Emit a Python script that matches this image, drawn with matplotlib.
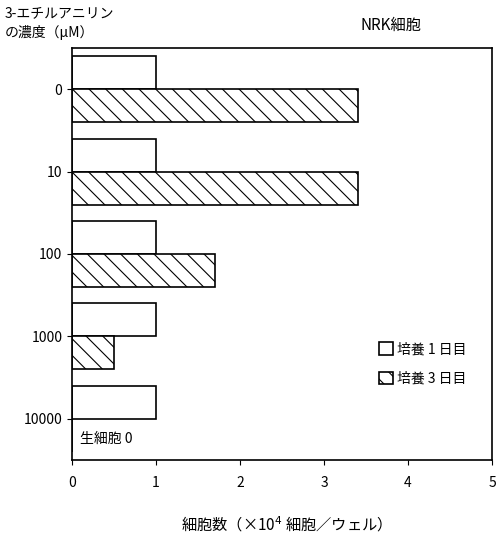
import matplotlib.pyplot as plt
import numpy as np

plt.rcParams['font.family'] = ['Noto Sans CJK JP', 'DejaVu Sans']
plt.rcParams['hatch.linewidth'] = 0.8

concs = ['0', '10', '100', '1000', '10000']
day1 = [1.0, 1.0, 1.0, 1.0, 1.0]
day3 = [3.4, 3.4, 1.7, 0.5, 0.0]

fig = plt.figure(figsize=(5, 5.34), dpi=100)
ax = fig.add_axes([0.144, 0.139, 0.84, 0.771])

y = np.arange(len(concs))
h = 0.4
ax.barh(y - h / 2, day1, height=h, color='white', edgecolor='black', linewidth=1.2, label='培養 1 日目')
ax.barh(y + h / 2, day3, height=h, color='white', edgecolor='black', linewidth=1.2,
        hatch='\\\\', label='培養 3 日目')

ax.set_xlim(0, 5)
ax.set_ylim(4.5, -0.5)
ax.set_yticks(y)
ax.set_yticklabels(concs, fontsize=10)
ax.set_xticks(range(6))
ax.tick_params(axis='x', labelsize=10, pad=8)
for s in ax.spines.values():
    s.set_linewidth(1.2)

ax.text(0.1, 4.25, '生細胞 0', fontsize=10, va='center')
ax.legend(loc='lower right', bbox_to_anchor=(0.97, 0.15), frameon=False, fontsize=10,
          handlelength=1.0, handleheight=1.0, labelspacing=1.1, handletextpad=0.3)

ax.set_xlabel('細胞数（×10$^4$ 細胞／ウェル）', fontsize=11, labelpad=18)
fig.text(0.01, 0.975, '3-エチルアニリン', fontsize=10, va='center')
fig.text(0.01, 0.94, 'の濃度（μM）', fontsize=10, va='center')
fig.text(0.72, 0.952, 'NRK細胞', fontsize=11, va='center')

fig.savefig('out.png')
